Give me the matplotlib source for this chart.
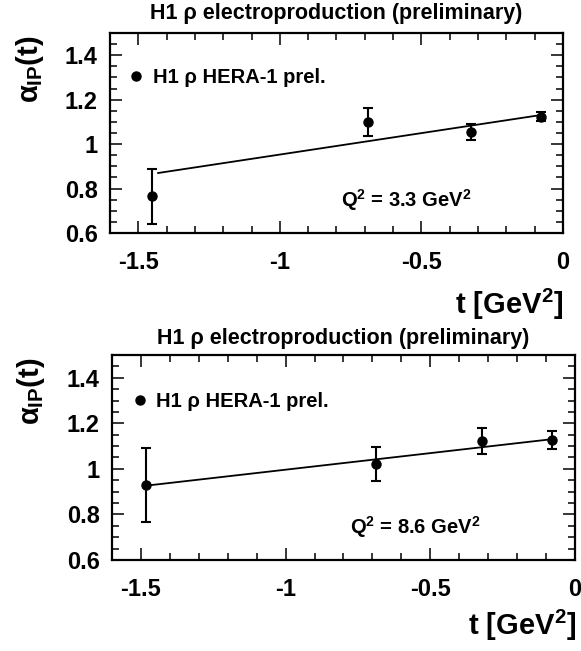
import matplotlib
matplotlib.use("Agg")
import matplotlib.pyplot as plt
from matplotlib.lines import Line2D
from matplotlib.ticker import MultipleLocator
import numpy as np

# ================== DATA ==================
# Q2 = 3.3 GeV2
top_t = [-1.45, -0.69, -0.325, -0.078]
top_alpha = [0.765, 1.10, 1.056, 1.124]
top_err = [0.123, 0.063, 0.036, 0.02]
top_fit = (1.146, 0.193)          # alpha0, alpha'
top_fit_range = [-1.43, -0.078]

# Q2 = 8.6 GeV2
bot_t = [-1.483, -0.688, -0.32, -0.08]
bot_alpha = [0.929, 1.022, 1.123, 1.126]
bot_err = [0.163, 0.074, 0.056, 0.040]
bot_fit = (1.142, 0.1455)
bot_fit_range = [-1.483, -0.08]

q2_labels = ["3.3", "8.6"]
title = "H1 \u03c1 electroproduction (preliminary)"
legend_label = "H1 \u03c1 HERA-1 prel."
# ===========================================

plt.rcParams["font.family"] = ["Liberation Sans", "DejaVu Sans"]
plt.rcParams["font.weight"] = "bold"
plt.rcParams["axes.unicode_minus"] = False
plt.rcParams["mathtext.fontset"] = "custom"
plt.rcParams["mathtext.rm"] = "Liberation Sans:bold"
plt.rcParams["mathtext.it"] = "Liberation Sans:bold"
plt.rcParams["mathtext.bf"] = "Liberation Sans:bold"

W, H = 581, 651
fig = plt.figure(figsize=(W / 100, H / 100), dpi=100)
fig.patch.set_facecolor("white")


def px_axes(l, t, r, b):
    return fig.add_axes([l / W, 1 - b / H, (r - l) / W, (b - t) / H])


def fx(x):
    return x / W


def fy(y):
    return 1 - y / H


panels = [
    dict(box=(110, 33, 563, 233), t=top_t, a=top_alpha, e=top_err,
         fit=top_fit, rng=top_fit_range, q2=q2_labels[0],
         title_y=13, ylab=(30, 35), xlab=(563, 287),
         leg=(0.045, 0.775), q2pos=(0.51, 0.165)),
    dict(box=(112, 355, 575, 560), t=bot_t, a=bot_alpha, e=bot_err,
         fit=bot_fit, rng=bot_fit_range, q2=q2_labels[1],
         title_y=338, ylab=(31, 357), xlab=(576, 608),
         leg=(0.047, 0.771), q2pos=(0.514, 0.161)),
]

for p in panels:
    l, t, r, b = p["box"]
    ax = px_axes(l, t, r, b)
    ax.set_xlim(-1.6, 0)
    ax.set_ylim(0.6, 1.5)

    # fit line (linear trajectory)
    ft = np.array(p["rng"])
    ax.plot(ft, p["fit"][0] + p["fit"][1] * ft, color="black", lw=1.3, zorder=2)

    ax.errorbar(p["t"], p["a"], yerr=p["e"], fmt="o", color="black",
                ms=6.5, elinewidth=1.5, capsize=3.8, capthick=1.5, zorder=3)

    for s in ax.spines.values():
        s.set_linewidth(1.6)

    ax.xaxis.set_major_locator(MultipleLocator(0.5))
    ax.xaxis.set_minor_locator(MultipleLocator(0.1))
    ax.yaxis.set_major_locator(MultipleLocator(0.2))
    ax.yaxis.set_minor_locator(MultipleLocator(0.05))
    ax.tick_params(which="both", direction="in", top=True, right=True, width=1.1)
    ax.tick_params(which="major", length=8.5)
    ax.tick_params(which="minor", length=5)
    ax.tick_params(axis="x", pad=13, labelsize=17)
    ax.tick_params(axis="y", pad=9, labelsize=17)
    ax.xaxis.set_major_formatter(lambda v, pos: f"{v:g}")
    ax.yaxis.set_major_formatter(lambda v, pos: f"{v:g}")
    for lab in ax.get_xticklabels() + ax.get_yticklabels():
        lab.set_fontweight("bold")

    fig.text(fx((l + r) / 2), fy(p["title_y"]), title, ha="center", va="center",
             fontsize=15.5, fontweight="bold")

    fig.text(fx(p["ylab"][0]), fy(p["ylab"][1]), r"$\alpha_{IP}$(t)",
             rotation=90, ha="center", va="top", fontsize=21, fontweight="bold")

    fig.text(fx(p["xlab"][0]), fy(p["xlab"][1]), r"t [GeV$^{2}$]",
             ha="right", va="top", fontsize=21, fontweight="bold")

    handle = Line2D([], [], marker="o", ls="none", color="black", ms=6.5)
    ax.legend([handle], [legend_label], loc="center left", bbox_to_anchor=p["leg"],
              frameon=False, handlelength=0.6, handletextpad=0.5, borderpad=0,
              borderaxespad=0, prop=dict(size=14.5, weight="bold"))

    ax.text(p["q2pos"][0], p["q2pos"][1], "Q$^{2}$ = " + p["q2"] + " GeV$^{2}$",
            transform=ax.transAxes, ha="left", va="center", fontsize=14.5,
            fontweight="bold")

fig.savefig("out.png", dpi=100, facecolor="white")
